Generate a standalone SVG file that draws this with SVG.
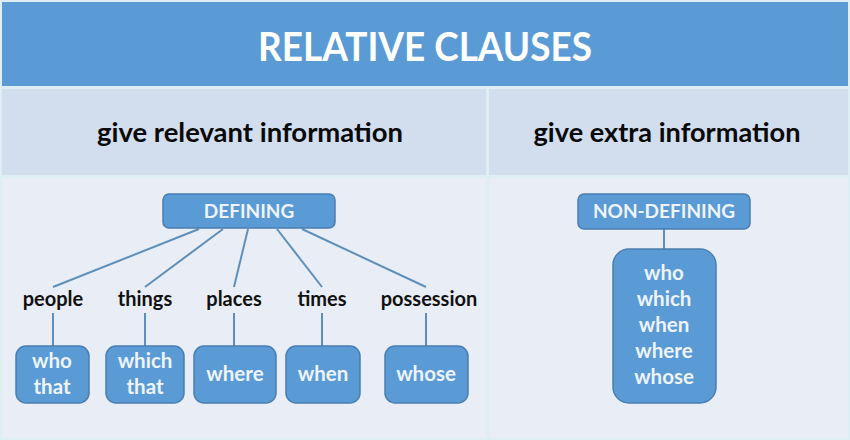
<svg xmlns="http://www.w3.org/2000/svg" width="850" height="440" viewBox="0 0 850 440">
<style>
text{font-family:Lato,"Open Sans","Liberation Sans",sans-serif;font-weight:bold;text-anchor:middle}
.box{fill:#5B9BD5;stroke:#4A7EB0;stroke-width:1.5}
.bt{fill:#EEF4FA;font-size:20.5px}
.hd{font-size:19px}
.lbl{fill:#111;font-size:20px}
.ln{stroke:#5E8FBA;stroke-width:2;fill:none}
</style>
<rect x="0" y="0" width="850" height="440" fill="#DDEEF4"/>
<rect x="2" y="2" width="846" height="84" fill="#5B9BD5"/>
<text x="425" y="61" fill="#FFFFFF" font-size="40" textLength="334" lengthAdjust="spacingAndGlyphs">RELATIVE CLAUSES</text>
<rect x="2" y="89" width="484" height="86" fill="#D2DEED"/>
<rect x="489" y="89" width="359" height="86" fill="#D2DEED"/>
<text x="250" y="142" fill="#0A0A0A" font-size="27" textLength="306" lengthAdjust="spacingAndGlyphs">give relevant information</text>
<text x="667" y="142" fill="#0A0A0A" font-size="27" textLength="267" lengthAdjust="spacingAndGlyphs">give extra information</text>
<rect x="2" y="178" width="484" height="260" fill="#E9EEF6"/>
<rect x="489" y="178" width="359" height="260" fill="#E9EEF6"/>
<g id="connectors">
<line class="ln" x1="199" y1="229" x2="53" y2="287"/>
<line class="ln" x1="223" y1="229" x2="145" y2="287"/>
<line class="ln" x1="248" y1="229" x2="234" y2="287"/>
<line class="ln" x1="277" y1="229" x2="322" y2="287"/>
<line class="ln" x1="302" y1="229" x2="426" y2="287"/>
<line class="ln" x1="53" y1="313" x2="53" y2="346"/>
<line class="ln" x1="145" y1="313" x2="145" y2="346"/>
<line class="ln" x1="234" y1="313" x2="234" y2="346"/>
<line class="ln" x1="322" y1="313" x2="322" y2="346"/>
<line class="ln" x1="426" y1="313" x2="426" y2="346"/>
<line class="ln" x1="664" y1="229" x2="664" y2="249"/>
</g>
<g id="defining">
<rect class="box" x="163" y="194" width="172" height="34" rx="6"/>
<text class="bt hd" x="249" y="218">DEFINING</text>
</g>
<g id="people"><text class="lbl" x="53" y="306">people</text></g>
<g id="things"><text class="lbl" x="145" y="306">things</text></g>
<g id="places"><text class="lbl" x="234" y="306">places</text></g>
<g id="times"><text class="lbl" x="322" y="306">times</text></g>
<g id="possession"><text class="lbl" x="429" y="306">possession</text></g>
<g id="who-that">
<rect class="box" x="16" y="346" width="73" height="57" rx="10"/>
<text class="bt" x="52" y="368">who</text>
<text class="bt" x="52" y="394">that</text>
</g>
<g id="which-that">
<rect class="box" x="106" y="346" width="78" height="57" rx="10"/>
<text class="bt" x="145" y="368">which</text>
<text class="bt" x="145" y="394">that</text>
</g>
<g id="where">
<rect class="box" x="194" y="346" width="82" height="57" rx="10"/>
<text class="bt" x="235" y="381">where</text>
</g>
<g id="when">
<rect class="box" x="286" y="346" width="74" height="57" rx="10"/>
<text class="bt" x="323" y="381">when</text>
</g>
<g id="whose">
<rect class="box" x="385" y="346" width="83" height="57" rx="10"/>
<text class="bt" x="426" y="381">whose</text>
</g>
<g id="non-defining">
<rect class="box" x="578" y="194" width="172" height="35" rx="6"/>
<text class="bt hd" x="664" y="218">NON-DEFINING</text>
</g>
<g id="non-defining-list">
<rect class="box" x="613" y="249" width="103" height="154" rx="16"/>
<text class="bt" x="664" y="280">who</text>
<text class="bt" x="664" y="306">which</text>
<text class="bt" x="664" y="332">when</text>
<text class="bt" x="664" y="358">where</text>
<text class="bt" x="664" y="384">whose</text>
</g>
</svg>
